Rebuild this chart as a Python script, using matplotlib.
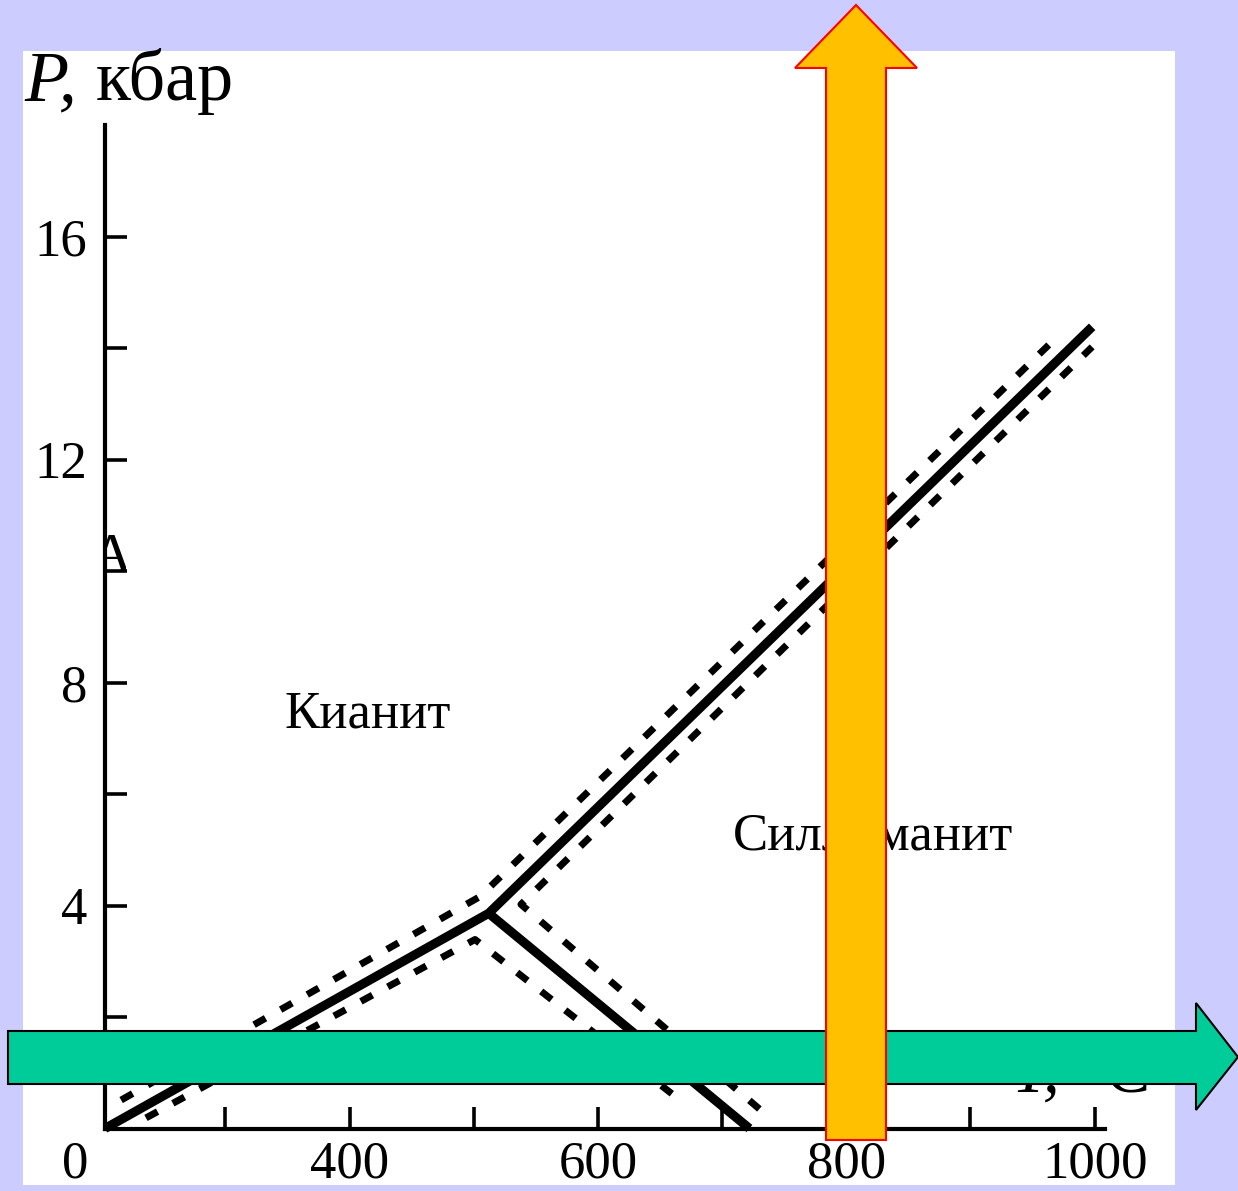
import matplotlib
matplotlib.use("Agg")
import matplotlib.pyplot as plt
from matplotlib.patches import Rectangle, Polygon

# --- data (T in deg C, P in kbar) ---
# solid phase boundaries
ky_and_T = [203, 512]
ky_and_P = [0.0, 3.86]
ky_sil_T = [512, 998]
ky_sil_P = [3.86, 14.38]
and_sil_T = [512, 722]
and_sil_P = [3.86, 0.0]

# dashed uncertainty envelopes
dash_upper_T = [216, 505, 973]
dash_upper_P = [0.51, 4.16, 14.27]
dash_left_T = [236, 501, 670]
dash_left_P = [0.19, 3.39, 0.44]
dash_right_T = [730, 538, 998]
dash_right_P = [0.35, 4.02, 14.02]

x_ticks = [300, 400, 500, 600, 700, 800, 900, 1000]
x_labels = ["", "400", "", "600", "", "800", "", "1000"]
y_ticks = [4, 8, 12, 16]
y_labels = ["4", "8", "12", "16"]
y_minor = [2, 6, 10, 14]

W, H = 1238, 1191
SERIF = "Liberation Serif"
LAV = "#CCCCFF"

fig = plt.figure(figsize=(W / 100, H / 100), dpi=100, facecolor=LAV)

# white panel
fig.add_artist(Rectangle((23 / W, (H - 1185) / H), (1175 - 23) / W, (1185 - 51) / H,
                         transform=fig.transFigure, facecolor="white",
                         edgecolor="none", zorder=-5))

ax = fig.add_axes([105 / W, (H - 1128.5) / H, 1000 / W, (1128.5 - 125) / H])
ax.set_facecolor("none")
ax.set_xlim(203, 203 + 1000 / 1.2417)
ax.set_ylim(0, 18)
for s in ["top", "right"]:
    ax.spines[s].set_visible(False)
for s in ["left", "bottom"]:
    ax.spines[s].set_linewidth(3)

ax.set_xticks(x_ticks, x_labels)
ax.set_yticks(y_ticks, y_labels)
ax.set_yticks(y_minor, minor=True)
ax.tick_params(direction="in", length=16, width=2.6, labelsize=38)
ax.tick_params(axis="x", pad=9)
ax.tick_params(axis="y", pad=13)
ax.tick_params(axis="y", which="minor", direction="in", length=16, width=2.6)
for lab in ax.get_xticklabels() + ax.get_yticklabels():
    lab.set_family(SERIF)

solid = dict(color="black", lw=6.6, solid_joinstyle="miter", solid_capstyle="butt",
             clip_on=False)
ax.plot(ky_and_T + ky_sil_T[1:], ky_and_P + ky_sil_P[1:], **solid)
ax.plot(and_sil_T, and_sil_P, **solid)

dashed = dict(color="black", lw=5.0, dashes=(1.9, 2.5), dash_capstyle="butt",
              clip_on=False)
ax.plot(dash_upper_T, dash_upper_P, **dashed)
ax.plot(dash_left_T, dash_left_P, **dashed)
ax.plot(dash_right_T, dash_right_P, **dashed)

# overlay in pixel coordinates for labels and arrows
ov = fig.add_axes([0, 0, 1, 1], zorder=10)
ov.set_xlim(0, W)
ov.set_ylim(H, 0)
ov.axis("off")
ov.patch.set_alpha(0)

ov.text(75, 1165, "0", fontsize=38, family=SERIF, ha="center", va="center")
ov.text(24, 100, "P,", fontsize=52, family=SERIF, style="italic", va="baseline")
ov.text(96, 100, "кбар", fontsize=52, family=SERIF, va="baseline")
ov.text(285, 728, "Кианит", fontsize=38, family=SERIF, va="baseline")
ov.text(733, 849, "Силлиманит", fontsize=38, family=SERIF, va="baseline")
ov.text(1012, 1092, "T,", fontsize=48, family=SERIF, style="italic", va="baseline")
ov.text(1080, 1092, "°C", fontsize=48, family=SERIF, va="baseline")

frag = ov.text(92, 572, "А", fontsize=40, family=SERIF, va="baseline", clip_on=True)
frag.set_clip_path(Rectangle((106, 535), 20, 60, transform=ov.transData))

# green arrow (horizontal)
green_x = [8, 1196, 1196, 1238, 1196, 1196, 8]
green_y = [1031, 1031, 1003, 1057, 1110, 1084, 1084]
ov.add_patch(Polygon(list(zip(green_x, green_y)), closed=True, facecolor="#00CC99",
                     edgecolor="black", lw=1.5, zorder=20))

# orange arrow (vertical)
orange_x = [826, 826, 795, 856, 917, 886, 886]
orange_y = [1140, 68, 68, 5, 68, 68, 1140]
ov.add_patch(Polygon(list(zip(orange_x, orange_y)), closed=True, facecolor="#FFC000",
                     edgecolor="red", lw=1.5, zorder=21))

fig.savefig("out.png", dpi=100, facecolor=LAV)
